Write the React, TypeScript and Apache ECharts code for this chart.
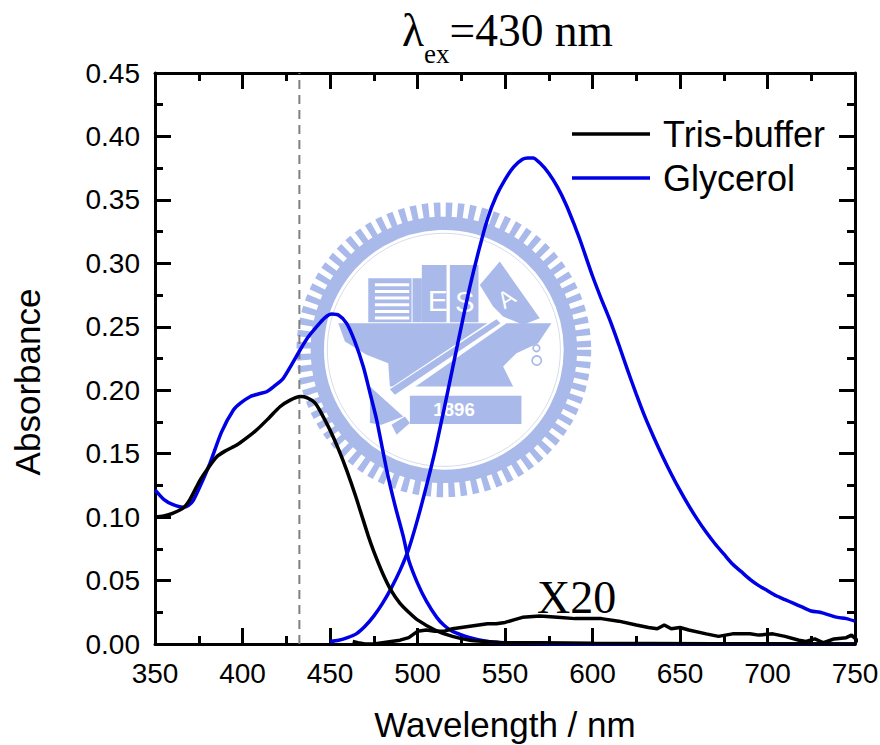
import React, { useEffect, useRef } from "react";
import * as echarts from "echarts";

const trisAbsorption = [[350,0.1],[355,0.101],[360,0.103],[366,0.107],[370,0.114],[375.7,0.129],[380,0.138],[385.3,0.1476],[390,0.152],[396.7,0.1568],[402,0.162],[408,0.1686],[415,0.178],[421.4,0.187],[427,0.192],[432.9,0.195],[437,0.194],[441.4,0.19],[445,0.182],[450,0.1686],[455,0.153],[459.5,0.137],[465,0.115],[471.9,0.085],[475,0.073],[480,0.056],[485,0.042],[490,0.032],[495,0.025],[500,0.019],[510,0.011],[520,0.006],[530,0.003],[540,0.002],[550,0.001],[570,0.001],[600,0.0005],[750,0]];
const glycerolAbsorption = [[350,0.1214],[355,0.114],[360,0.11],[366,0.1077],[369,0.109],[372,0.1135],[376,0.125],[381.4,0.1424],[388,0.167],[394.8,0.1844],[399,0.19],[404.3,0.1949],[409,0.197],[413.8,0.1988],[418,0.203],[423.3,0.2094],[428,0.22],[432.9,0.2317],[437,0.241],[442.4,0.2501],[447,0.257],[451,0.26],[455,0.259],[459.5,0.2527],[464,0.239],[469,0.2186],[473,0.197],[476.7,0.1765],[482.4,0.1371],[487,0.11],[491.9,0.0846],[495,0.066],[500,0.048],[505,0.034],[511,0.021],[515,0.015],[520,0.01],[530,0.005],[540,0.002],[550,0.001],[600,0],[750,0]];
const trisEmission = [[463,0.002],[466,0.001],[470,0],[475,0],[480,0.001],[485,0.002],[490,0.003],[495,0.005],[500,0.01],[505,0.011],[510,0.01],[515,0.01],[520,0.012],[525,0.013],[530,0.014],[535,0.015],[540,0.016],[545,0.016],[550,0.017],[555,0.019],[560,0.021],[570,0.022],[580,0.021],[590,0.02],[600,0.02],[605,0.02],[615,0.018],[625,0.015],[632,0.013],[637,0.012],[641,0.015],[645,0.012],[650,0.013],[655,0.011],[665,0.008],[672,0.006],[680,0.008],[690,0.008],[695,0.007],[703,0.008],[710,0.006],[718,0.003],[722,0.002],[727,0.004],[732,0.001],[738,0.004],[745,0.005],[748,0.007],[752,0.002]];
const glycerolEmission = [[450,0.002],[455,0.003],[460,0.005],[465,0.008],[470,0.014],[475,0.022],[480,0.032],[485,0.044],[490,0.058],[495,0.075],[500,0.098],[505,0.124],[510,0.152],[515,0.184],[520,0.217],[525,0.25],[530,0.282],[535,0.31],[540,0.335],[545,0.353],[550,0.366],[555,0.376],[560,0.382],[563,0.383],[566,0.383],[570,0.379],[575,0.371],[580,0.36],[585,0.346],[590,0.329],[593,0.318],[600,0.29],[605,0.272],[610,0.255],[615,0.236],[620,0.216],[625,0.197],[630,0.179],[635,0.163],[640,0.148],[645,0.134],[650,0.121],[655,0.109],[660,0.098],[665,0.088],[670,0.079],[675,0.071],[680,0.063],[685,0.057],[690,0.051],[695,0.046],[700,0.042],[705,0.038],[710,0.035],[715,0.032],[720,0.029],[725,0.026],[730,0.025],[735,0.023],[740,0.021],[745,0.02],[750,0.018]];
const excitation = [[432.5,0],[432.5,0.45]];

const LOGO = "#a9b9ea";
const rect = (x: number, y: number, w: number, h: number, fill = LOGO) => ({ type: "rect", shape: { x, y, width: w, height: h }, style: { fill } });
const poly = (points: number[][], fill = LOGO) => ({ type: "polygon", shape: { points }, style: { fill } });
const stripes = [280, 300, 320, 340, 360, 380].map((y) => rect(255, y, 103, 9, "#ffffff"));

const logo = {
  type: "group", x: 290, y: 190, scaleX: 1 / 3, scaleY: 1 / 3, silent: true,
  children: [
    { type: "circle", shape: { cx: 462, cy: 480, r: 420 }, style: { fill: "none", stroke: LOGO, lineWidth: 45, lineDash: [19, 15.8] } },
    { type: "circle", shape: { cx: 462, cy: 480, r: 380 }, style: { fill: "none", stroke: LOGO, lineWidth: 40 } },
    { type: "circle", shape: { cx: 462, cy: 480, r: 350 }, style: { fill: "none", stroke: "#d6dcec", lineWidth: 3 } },
    rect(235, 265, 130, 132),
    ...stripes,
    rect(368, 265, 28, 132),
    rect(396, 225, 74, 172),
    rect(480, 225, 86, 172),
    poly([[570, 285], [630, 215], [750, 385], [700, 405], [640, 380], [610, 350]]),
    poly([[145, 400], [785, 400], [745, 460], [680, 490], [640, 530], [670, 590], [400, 590], [300, 590], [295, 520], [230, 495], [165, 455]]),
    poly([[285, 605], [630, 375], [650, 400], [320, 630]], "#ffffff"),
    poly([[300, 598], [620, 388], [632, 400], [315, 615]]),
    poly([[240, 590], [340, 680], [275, 705], [240, 700]]),
    poly([[305, 705], [345, 680], [360, 700], [320, 735]]),
    rect(360, 618, 335, 85),
    { type: "text", x: 430, y: 632, style: { text: "1896", fill: "#ffffff", font: "bold 56px 'Liberation Sans'" } },
    { type: "text", x: 413, y: 285, style: { text: "E", fill: "#ffffff", font: "90px 'Liberation Sans'" } },
    { type: "text", x: 495, y: 290, style: { text: "S", fill: "#ffffff", font: "88px 'Liberation Sans'" } },
    { type: "text", x: 610, y: 310, rotation: 0.6, style: { text: "A", fill: "#ffffff", font: "70px 'Liberation Sans'" } },
    { type: "circle", shape: { cx: 740, cy: 475, r: 10 }, style: { fill: "none", stroke: LOGO, lineWidth: 5 } },
    { type: "circle", shape: { cx: 741, cy: 512, r: 14 }, style: { fill: "none", stroke: LOGO, lineWidth: 5 } },
  ],
};

export default function App() {
  const ref = useRef<HTMLDivElement>(null);
  useEffect(() => {
    const chart = echarts.init(ref.current!, null, { renderer: "svg" });
    const sans = "'Liberation Sans', Arial, sans-serif";
    const serif = "'Liberation Serif', 'Times New Roman', serif";
    const axisLine = { show: true, onZero: false, lineStyle: { color: "#000", width: 3 } };
    const major = { show: true, inside: true, length: 16, lineStyle: { color: "#000", width: 3 } };
    const minor = { show: true, splitNumber: 2, length: 8, lineStyle: { color: "#000", width: 3 } };
    const xBase = { type: "value", min: 350, max: 750, interval: 50, splitLine: { show: false }, axisLine, axisTick: major, minorTick: minor };
    const yBase = { type: "value", min: 0, max: 0.45, interval: 0.05, splitLine: { show: false }, axisLine, axisTick: major, minorTick: minor };
    const line = (name: string, data: number[][], color: string, smooth: number | boolean = 0.25) => ({
      name, type: "line", data, showSymbol: false, smooth, clip: false, lineStyle: { color, width: 3.5 }, itemStyle: { color }, z: 3,
    });
    const main = { fontFamily: serif, fontSize: 45.5, color: "#000", fontWeight: "normal", verticalAlign: "bottom", padding: [0, 0, 14, 0] };
    chart.setOption({
      animation: false,
      backgroundColor: "#fff",
      grid: { left: 155, right: 25, top: 73, bottom: 101, outerBoundsMode: "none" },
      title: {
        left: 402, top: 7, padding: 0,
        text: "{l|λ}{s|ex}{m|=430 nm}",
        textStyle: {
          fontWeight: "normal",
          rich: {
            l: main,
            s: { fontFamily: serif, fontSize: 27, color: "#000", fontWeight: "normal", verticalAlign: "bottom" },
            m: main,
          },
        },
      },
      legend: {
        left: 572, top: 116, orient: "vertical", itemWidth: 78, itemHeight: 3.5, itemGap: 8,
        icon: "rect", padding: 0, selectedMode: false,
        data: ["Tris-buffer", "Glycerol"],
        textStyle: { fontFamily: sans, fontSize: 36, color: "#000", padding: [0, 0, 0, 8] },
      },
      xAxis: [
        { ...xBase, name: "Wavelength / nm", nameLocation: "middle", nameGap: 63,
          nameTextStyle: { fontFamily: sans, fontSize: 35, color: "#000" },
          axisLabel: { fontFamily: sans, fontSize: 28, color: "#000", margin: 15 } },
        { ...xBase, position: "top", axisLabel: { show: false } },
      ],
      yAxis: [
        { ...yBase,
          axisLabel: { fontFamily: sans, fontSize: 28, color: "#000", margin: 15, formatter: (v: number) => v.toFixed(2) } },
        { ...yBase, position: "right", axisLabel: { show: false } },
      ],
      graphic: [
        { ...logo, z: 0 },
        { type: "text", x: 537, y: 574, z: 5, silent: true, style: { text: "X20", fill: "#000", font: `46px ${serif}` } },
        { type: "text", x: 27, y: 382, rotation: Math.PI / 2, silent: true, style: { text: "Absorbance", fill: "#000", font: `35px ${sans}`, align: "center", verticalAlign: "middle" } },
      ],
      series: [
        { ...line("excitation", excitation, "#808080", false), lineStyle: { color: "#808080", width: 2, type: [9, 6] }, z: 2 },
        line("Glycerol", glycerolEmission, "#0000e6"),
        line("Glycerol", glycerolAbsorption, "#0000e6"),
        line("Tris-buffer", trisAbsorption, "#000"),
        line("Tris-buffer", trisEmission, "#000", false),
      ],
    });
    return () => chart.dispose();
  }, []);
  return <div ref={ref} style={{ width: 880, height: 745, position: "fixed", left: 0, top: 0 }} />;
}
